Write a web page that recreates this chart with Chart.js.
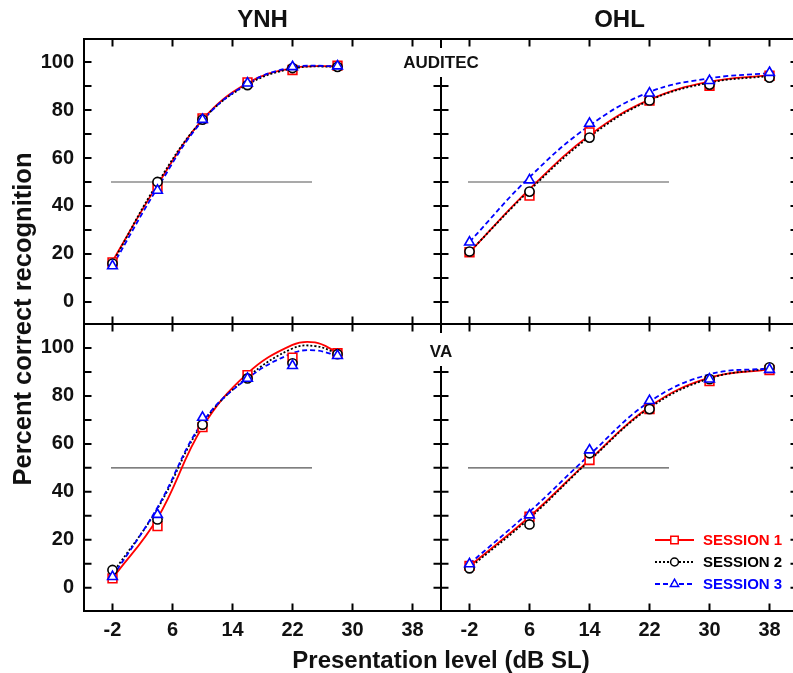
<!DOCTYPE html>
<html><head><meta charset="utf-8">
<script src="https://cdn.jsdelivr.net/npm/chart.js@4.4.0/dist/chart.umd.min.js"></script>
<style>
html,body{margin:0;padding:0;background:#fff;overflow:hidden;}
#wrap{position:relative;width:793px;height:673px;overflow:hidden;background:#fff;}
canvas{position:absolute;}
.lbl{position:absolute;font-family:'Liberation Sans',Arial,Helvetica,sans-serif;font-weight:bold;color:#111;text-align:center;white-space:nowrap;}
</style></head>
<body><div id="wrap">
<canvas id="tl" width="443" height="326" style="left:0;top:0;width:443px;height:326px"></canvas>
<canvas id="bl" width="443" height="373" style="left:0;top:300px;width:443px;height:373px"></canvas>
<canvas id="tr" width="420" height="326" style="left:380px;top:0;width:420px;height:326px"></canvas>
<canvas id="br" width="420" height="373" style="left:380px;top:300px;width:420px;height:373px"></canvas>
<div class="lbl" id="ytitle" style="left:-178px;top:304px;width:400px;height:30px;line-height:30px;font-size:25.5px;transform:rotate(-90deg);">Percent correct recognition</div>
<div class="lbl" id="xtitle" style="left:191px;top:645px;width:500px;height:30px;line-height:30px;font-size:24px;">Presentation level (dB SL)</div>
</div>
<script>
// ---------------- DATA ----------------
const groupTitles = ['YNH', 'OHL'];
const materialLabels = ['AUDITEC', 'VA'];
const sessionNames = ['SESSION 1', 'SESSION 2', 'SESSION 3'];

const ynhLevels = [-2, 4, 10, 16, 22, 28];
const ohlLevels = [-2, 6, 14, 22, 30, 38];
const xTickLabels = [-2, 6, 14, 22, 30, 38];
const yTickLabels = [0, 20, 40, 60, 80, 100];
const yTickMarks = [0, 10, 20, 30, 40, 50, 60, 70, 80, 90, 100];

// 50% reference line (level range, percent)
const refLevels = [-2.2, 24.6];
const refPercent = [50, 50];

// YNH - AUDITEC observed
const ynhAuditecS1 = [16.5, 48.0, 76.5, 91.5, 96.7, 98.5];
const ynhAuditecS2 = [16.0, 50.0, 76.0, 90.4, 97.5, 98.0];
const ynhAuditecS3 = [15.0, 46.5, 76.0, 91.2, 98.0, 98.3];
// YNH - AUDITEC fitted curves
const ynhAuditecFitS1 = [17.0, 48.8, 76.0, 91.2, 97.5, 98.3];
const ynhAuditecFitS2 = [16.3, 49.5, 75.8, 90.6, 97.3, 98.2];
const ynhAuditecFitS3 = [15.0, 47.5, 75.5, 91.0, 97.8, 98.3];

// OHL - AUDITEC observed
const ohlAuditecS1 = [20.7, 44.3, 70.7, 83.9, 90.1, 94.3];
const ohlAuditecS2 = [21.0, 46.0, 68.5, 84.0, 90.6, 93.5];
const ohlAuditecS3 = [24.9, 50.8, 74.4, 87.0, 92.2, 95.6];
// OHL - AUDITEC fitted curves
const ohlAuditecFitS1 = [20.7, 47.0, 69.5, 84.3, 91.8, 94.5];
const ohlAuditecFitS2 = [20.8, 46.5, 68.8, 84.0, 91.4, 94.2];
const ohlAuditecFitS3 = [25.0, 52.0, 73.5, 87.5, 93.2, 95.4];

// YNH - VA observed
const ynhVaS1 = [3.9, 25.7, 67.0, 88.7, 96.0, 97.8];
const ynhVaS2 = [7.4, 28.5, 68.0, 87.3, 93.6, 97.4];
const ynhVaS3 = [4.6, 30.5, 71.0, 87.3, 92.6, 96.8];
// YNH - VA fitted curves (read at these levels)
const ynhVaFitLevels = [-2, 4, 10, 16, 22, 25, 28];
const ynhVaFitS1 = [3.9, 29.0, 67.0, 89.4, 101.3, 102.3, 98.2];
const ynhVaFitS2 = [6.0, 33.0, 68.5, 87.8, 99.8, 100.8, 97.8];
const ynhVaFitS3 = [4.6, 33.5, 69.0, 87.3, 97.8, 99.0, 96.8];

// OHL - VA observed
const ohlVaS1 = [9.1, 29.6, 53.3, 74.5, 86.2, 90.8];
const ohlVaS2 = [8.1, 26.4, 56.1, 74.5, 87.0, 91.9];
const ohlVaS3 = [9.9, 30.3, 57.4, 78.0, 87.0, 91.0];
// OHL - VA fitted curves
const ohlVaFitS1 = [9.0, 29.6, 53.3, 75.5, 87.6, 91.1];
const ohlVaFitS2 = [8.3, 29.0, 53.0, 75.0, 87.3, 91.5];
const ohlVaFitS3 = [10.0, 31.7, 55.4, 77.6, 89.0, 91.5];

// ---------------- STYLE ----------------
const FONT = "'Liberation Sans', Arial, Helvetica, sans-serif";
const sessionStyle = [
  {color: '#ff0000', dash: [], width: 1.8, point: 'rect', radius: 6.2},
  {color: '#000000', dash: [2, 2], width: 1.8, point: 'circle', radius: 4.6},
  {color: '#0000ff', dash: [5, 3], width: 1.8, point: 'triangle', radius: 5.6}
];
const X_MIN = -5.8, X_MAX = 41.8;
const TOP_Y = {min: -9.2, max: 109.6};
const BOT_Y = {min: -9.7, max: 110.0};

function pts(xs, ys) { return xs.map((x, i) => ({x: x, y: ys[i]})); }

function buildDatasets(obsLevels, obs, fitLevels, fits) {
  const ds = [];
  ds.push({
    data: pts(refLevels, refPercent), showLine: true, borderColor: '#555555',
    borderWidth: 1.1, pointRadius: 0, order: 30
  });
  fits.forEach((f, i) => {
    const s = sessionStyle[i];
    ds.push({
      data: pts(fitLevels, f), showLine: true, borderColor: s.color, borderWidth: s.width,
      borderDash: s.dash, pointRadius: 0, tension: 0.4, order: 20 - i
    });
  });
  obs.forEach((o, i) => {
    const s = sessionStyle[i];
    ds.push({
      data: pts(obsLevels, o), showLine: false, pointStyle: s.point, pointRadius: s.radius,
      pointBorderColor: s.color, pointBackgroundColor: '#ffffff', pointBorderWidth: 1.6,
      pointHoverRadius: s.radius, order: 10 - i
    });
  });
  return ds;
}

const frameTicks = {
  id: 'frameTicks',
  afterDatasetsDraw(chart, args, o) {
    const ctx = chart.ctx, a = chart.chartArea;
    const xs = chart.scales.x, ys = chart.scales.y;
    ctx.save();
    ctx.strokeStyle = '#000';
    ctx.lineWidth = 2;
    ctx.setLineDash([]);
    ctx.strokeRect(a.left, a.top, a.right - a.left, a.bottom - a.top);
    ctx.beginPath();
    const L = 7.5;
    xTickLabels.forEach(v => {
      const px = xs.getPixelForValue(v);
      ctx.moveTo(px, a.top); ctx.lineTo(px, a.top + L);
      ctx.moveTo(px, a.bottom); ctx.lineTo(px, a.bottom - L);
    });
    yTickMarks.forEach(v => {
      const py = ys.getPixelForValue(v);
      ctx.moveTo(a.left, py); ctx.lineTo(a.left + L, py);
      ctx.moveTo(a.right, py); ctx.lineTo(a.right - L, py);
    });
    ctx.stroke();
    // material label with white box over the divider
    if (o && o.label) {
      ctx.font = 'bold 17px ' + FONT;
      const w = ctx.measureText(o.label).width;
      ctx.fillStyle = '#fff';
      ctx.fillRect(a.left - w / 2 - 5, o.boxTop, w + 10, o.boxBottom - o.boxTop);
      ctx.fillStyle = '#111';
      ctx.textAlign = 'center';
      ctx.textBaseline = 'middle';
      ctx.fillText(o.label, a.left, o.labelY);
    }
    // legend
    if (o && o.legend) {
      const lg = o.legend;
      sessionNames.forEach((name, i) => {
        const s = sessionStyle[i];
        const y = lg.y0 + i * lg.dy;
        ctx.strokeStyle = s.color;
        ctx.lineWidth = 1.8;
        ctx.setLineDash(s.dash);
        ctx.beginPath(); ctx.moveTo(lg.x0, y); ctx.lineTo(lg.x1, y); ctx.stroke();
        ctx.setLineDash([]);
        ctx.fillStyle = '#fff';
        ctx.lineWidth = 1.5;
        Chart.helpers.drawPoint(ctx, {pointStyle: s.point, radius: s.radius * 0.85, borderWidth: 1.5, rotation: 0},
          (lg.x0 + lg.x1) / 2, y);
        ctx.fillStyle = s.color;
        ctx.font = 'bold 15px ' + FONT;
        ctx.textAlign = 'left';
        ctx.textBaseline = 'middle';
        ctx.fillText(name, lg.tx, y + 1);
      });
    }
    ctx.restore();
  }
};

function zeroPad(s) { s.paddingTop = 0; s.paddingBottom = 0; s.paddingLeft = 0; s.paddingRight = 0; }

function makePanel(id, cfg) {
  const el = document.getElementById(id);
  return new Chart(el, {
    type: 'scatter',
    data: {datasets: buildDatasets(cfg.obsLevels, cfg.obs, cfg.fitLevels, cfg.fits)},
    options: {
      responsive: false, animation: false, devicePixelRatio: 1, events: [],
      layout: {padding: cfg.padding, autoPadding: false},
      plugins: {
        legend: {display: false}, tooltip: {enabled: false},
        title: cfg.title ? {
          display: true, text: cfg.title, fullSize: false, color: '#111',
          font: {family: FONT, size: 24, weight: 'bold', lineHeight: 1.2},
          padding: {top: 5.6, bottom: 4.6}
        } : {display: false},
        frameTicks: cfg.extra || {}
      },
      scales: {
        x: {
          type: 'linear', min: X_MIN, max: X_MAX, display: cfg.showX,
          grid: {display: false, drawTicks: false, tickLength: 0}, border: {display: false},
          ticks: {color: '#111', font: {family: FONT, size: 20, weight: 'bold'}, padding: 7, maxRotation: 0, autoSkip: false},
          afterBuildTicks: s => { s.ticks = xTickLabels.map(v => ({value: v})); },
          afterFit: s => { s.height = cfg.showX ? 62 : 0; zeroPad(s); }
        },
        y: {
          type: 'linear', min: cfg.yr.min, max: cfg.yr.max, display: cfg.showY, position: 'left',
          grid: {display: false, drawTicks: false, tickLength: 0}, border: {display: false},
          ticks: {color: '#111', font: {family: FONT, size: 20, weight: 'bold'}, padding: 10, autoSkip: false},
          afterBuildTicks: s => { s.ticks = yTickLabels.map(v => ({value: v})); },
          afterFit: s => { s.width = cfg.showY ? 84 : 0; zeroPad(s); }
        }
      }
    },
    plugins: [frameTicks]
  });
}

makePanel('tl', {
  obsLevels: ynhLevels, obs: [ynhAuditecS1, ynhAuditecS2, ynhAuditecS3],
  fitLevels: ynhLevels, fits: [ynhAuditecFitS1, ynhAuditecFitS2, ynhAuditecFitS3],
  padding: {left: 0, right: 2, top: 0, bottom: 2}, title: groupTitles[0],
  showX: false, showY: true, yr: TOP_Y
});
makePanel('bl', {
  obsLevels: ynhLevels, obs: [ynhVaS1, ynhVaS2, ynhVaS3],
  fitLevels: ynhVaFitLevels, fits: [ynhVaFitS1, ynhVaFitS2, ynhVaFitS3],
  padding: {left: 0, right: 2, top: 24, bottom: 0}, title: null,
  showX: true, showY: true, yr: BOT_Y
});
makePanel('tr', {
  obsLevels: ohlLevels, obs: [ohlAuditecS1, ohlAuditecS2, ohlAuditecS3],
  fitLevels: ohlLevels, fits: [ohlAuditecFitS1, ohlAuditecFitS2, ohlAuditecFitS3],
  padding: {left: 61, right: 2, top: 0, bottom: 2}, title: groupTitles[1],
  showX: false, showY: false, yr: TOP_Y,
  extra: {label: materialLabels[0], labelY: 63, boxTop: 48, boxBottom: 77}
});
makePanel('br', {
  obsLevels: ohlLevels, obs: [ohlVaS1, ohlVaS2, ohlVaS3],
  fitLevels: ohlLevels, fits: [ohlVaFitS1, ohlVaFitS2, ohlVaFitS3],
  padding: {left: 61, right: 2, top: 24, bottom: 0}, title: null,
  showX: true, showY: false, yr: BOT_Y,
  extra: {label: materialLabels[1], labelY: 52, boxTop: 33, boxBottom: 66,
          legend: {x0: 275, x1: 314, tx: 323, y0: 240, dy: 22}}
});
</script>
</body></html>
